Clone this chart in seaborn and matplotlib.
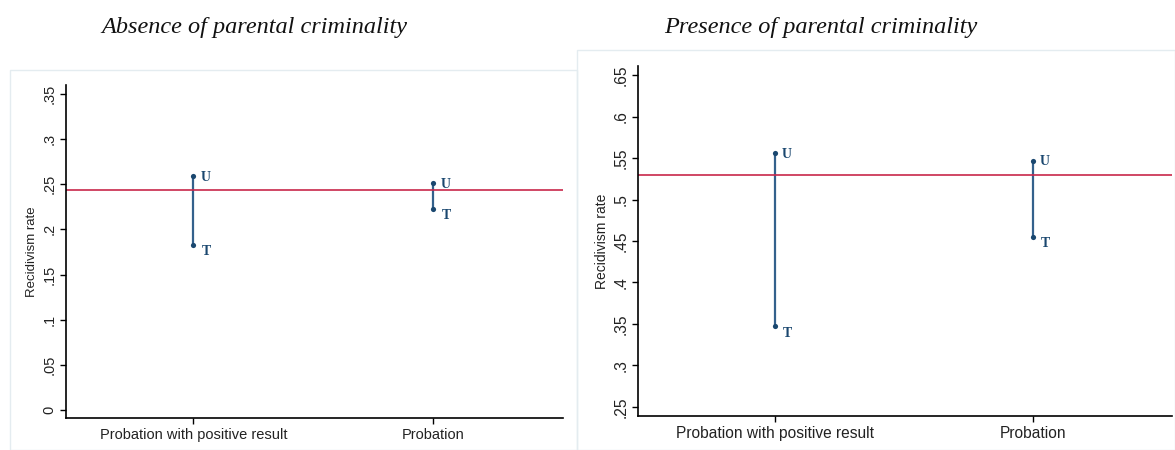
import matplotlib
matplotlib.use("Agg")
import matplotlib.pyplot as plt
import seaborn as sns
import pandas as pd
from matplotlib.patches import Rectangle

categories = ["Probation with positive result", "Probation"]
groups = ["U", "T"]
absence_U = [0.259, 0.251]
absence_T = [0.183, 0.223]
absence_ref = 0.244
presence_U = [0.556, 0.547]
presence_T = [0.347, 0.455]
presence_ref = 0.529
titles = ["Absence of parental criminality", "Presence of parental criminality"]
absence_ticks = [0, 0.05, 0.1, 0.15, 0.2, 0.25, 0.3, 0.35]
absence_ticklabels = ["0", ".05", ".1", ".15", ".2", ".25", ".3", ".35"]
presence_ticks = [0.25, 0.3, 0.35, 0.4, 0.45, 0.5, 0.55, 0.6, 0.65]
presence_ticklabels = [".25", ".3", ".35", ".4", ".45", ".5", ".55", ".6", ".65"]

sns.set_theme(style="white")
plt.rcParams["font.family"] = ["Liberation Sans", "DejaVu Sans"]

fig = plt.figure(figsize=(11.75, 4.5), dpi=100)
W, H = 1175, 450

def frac(x0, y0, x1, y1):
    return [x0 / W, 1 - y1 / H, (x1 - x0) / W, (y1 - y0) / H]

# faint panel frames
fig.patches.append(Rectangle((10 / W, 0), 567 / W, 1 - 70 / H, transform=fig.transFigure,
                             fill=False, edgecolor="#e4ecf0", linewidth=1))
fig.patches.append(Rectangle((577 / W, 0), 598 / W, 1 - 50 / H, transform=fig.transFigure,
                             fill=False, edgecolor="#e4ecf0", linewidth=1))

ax1 = fig.add_axes(frac(66, 85, 563, 418))
ax2 = fig.add_axes(frac(638, 66, 1172, 416))

navy = "#1a476f"
line_col = "#34618c"
red = "#c8284a"

panels = [
    (ax1, absence_U, absence_T, absence_ref, absence_ticks, absence_ticklabels, (-0.009, 0.36), 10.5, 9.5, titles[0], 254),
    (ax2, presence_U, presence_T, presence_ref, presence_ticks, presence_ticklabels, (0.239, 0.661), 11.2, 10, titles[1], 821),
]

for ax, U, T, ref, ticks, tlabels, ylim, fs, yfs, title, tx in panels:
    df = pd.DataFrame({
        "x": [0, 1, 0, 1],
        "cat": categories * 2,
        "group": ["U", "U", "T", "T"],
        "rate": U + T,
    })
    sns.lineplot(data=df, x="x", y="rate", units="cat", estimator=None, ax=ax,
                 color=line_col, linewidth=1.6, legend=False)
    sns.scatterplot(data=df, x="x", y="rate", ax=ax, color=navy, s=14,
                    edgecolor=navy, linewidth=0, legend=False, zorder=4)
    ax.axhline(ref, color=red, linewidth=1.2, zorder=2)
    for i in range(len(categories)):
        ax.annotate("U", (i, U[i]), xytext=(5, -1), textcoords="offset points",
                    ha="left", va="center", fontsize=10, fontweight="bold",
                    family="Liberation Serif", color=navy)
        ax.annotate("T", (i, T[i]), xytext=(6, -5), textcoords="offset points",
                    ha="left", va="center", fontsize=10, fontweight="bold",
                    family="Liberation Serif", color=navy)
    ax.set_xlim(-0.53, 1.54)
    ax.set_ylim(*ylim)
    ax.set_xticks([0, 1])
    ax.set_xticklabels(categories, fontsize=fs, color="#222222")
    ax.set_yticks(ticks)
    ax.set_yticklabels(tlabels, rotation=90, va="center", fontsize=fs, color="#222222")
    ax.set_xlabel("")
    ax.set_ylabel("Recidivism rate", fontsize=yfs, color="#222222", labelpad=3)
    for s in ["top", "right"]:
        ax.spines[s].set_visible(False)
    for s in ["left", "bottom"]:
        ax.spines[s].set_color("black")
        ax.spines[s].set_linewidth(1.2)
    ax.tick_params(axis="both", which="both", length=4, width=1, color="black",
                   direction="out", left=True, bottom=True, pad=3)
    ax.set_facecolor("white")
    fig.text(tx / W, 1 - 28 / H, title, ha="center", va="center", fontsize=17.5,
             style="italic", family="Liberation Serif", color="#111111")

fig.savefig("out.png", dpi=100, facecolor="white")
